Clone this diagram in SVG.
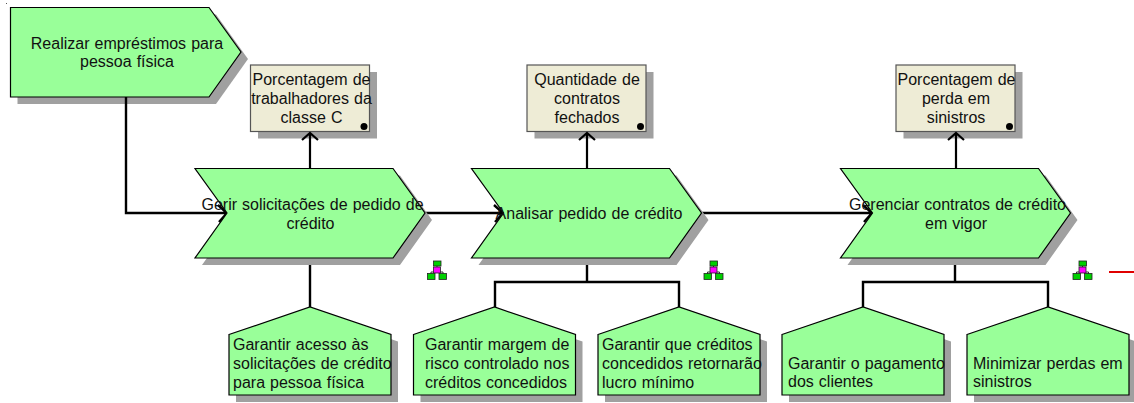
<svg xmlns="http://www.w3.org/2000/svg" width="1134" height="403" viewBox="0 0 1134 403">
<style>
text{font-family:"Liberation Sans",Arial,sans-serif;font-size:16px;word-spacing:.6px;fill:#111}
.m{text-anchor:middle}
.s{fill:#a0a0a0}
.g{fill:#99ff99;stroke:#000;stroke-width:1.2}
.k{fill:#eeecd6;stroke:#555;stroke-width:1.2}
.c{fill:none;stroke:#000;stroke-width:2.4}
.a{fill:none;stroke:#000;stroke-width:2.2}
.t{fill:#00d000;stroke:#222;stroke-width:.8}
.p{fill:#ff00ff;stroke:#222;stroke-width:.8}
.l{fill:none;stroke:#333;stroke-width:1}
</style>
<defs>
<path id="chev" d="M0 0H198L230 44.5L198 89.5H0L32 44.5Z"/>
<path id="goal" d="M0 27.500L81 0L162 27.500V88H0Z"/>
<g id="ico">
<path class="l" d="M0-4V3M-6 4V2H6V4"/>
<rect class="t" x="-3.500" y="-9" width="7.500" height="5"/>
<rect class="p" x="-3.500" y="-3" width="7" height="6"/>
<rect class="t" x="-9.500" y="3.500" width="7.500" height="6"/>
<rect class="t" x="2" y="3.500" width="7.500" height="6"/>
</g>
</defs>
<rect x="6" y="3" width="1" height="1" fill="#555"/>
<g id="start"><path class="s" d="M17.500 14.500H216L248 59L216 104H17.500Z"/><path class="g" d="M10.500 7.500H209L241 52L209 97H10.500Z"/><text class="m" x="127" y="49">Realizar empréstimos para</text><text class="m" x="127" y="67">pessoa física</text></g>
<g id="kpi1"><rect class="s" x="258" y="72" width="119" height="66.500"/><rect class="k" x="250.500" y="65" width="119" height="66.500"/><circle cx="364" cy="126.500" r="3.500" fill="#000"/><text class="m" x="311.500" y="85">Porcentagem de</text><text class="m" x="311.500" y="104">trabalhadores da</text><text class="m" x="311.500" y="123">classe C</text></g>
<g id="kpi2"><rect class="s" x="534.500" y="72" width="119" height="66.500"/><rect class="k" x="527" y="65" width="119" height="66.500"/><circle cx="640.500" cy="126.500" r="3.500" fill="#000"/><text class="m" x="587" y="85">Quantidade de</text><text class="m" x="587" y="104">contratos</text><text class="m" x="587" y="123">fechados</text></g>
<g id="kpi3"><rect class="s" x="903.500" y="72" width="119" height="66.500"/><rect class="k" x="896" y="65" width="119" height="66.500"/><circle cx="1009.500" cy="126.500" r="3.500" fill="#000"/><text class="m" x="956.500" y="85">Porcentagem de</text><text class="m" x="956" y="104">perda em</text><text class="m" x="956" y="123">sinistros</text></g>
<g id="connectors">
<path class="c" d="M126 97V213H227M218 205L227 213L219 222"/>
<path class="c" d="M425 213H503M494 205L503 213L495 222"/>
<path class="c" d="M702 213H872M863 205L872 213L864 222"/>
<path class="a" d="M310 168V133M302 140L310 133L318 140"/>
<path class="a" d="M587 168V133M579 140L587 133L595 140"/>
<path class="a" d="M956 168V133M948 140L956 133L964 140"/>
<path class="c" d="M310 258V307"/>
<path class="c" d="M587 258V282M495 307V282H679V307"/>
<path class="c" d="M955 258V282M863 307V282H1048V307"/>
</g>
<g id="f1"><use href="#chev" x="202" y="175.500" class="s"/><use href="#chev" x="195" y="168.500" class="g"/><text class="m" x="312.500" y="210">Gerir solicitações de pedido de</text><text class="m" x="310.500" y="229">crédito</text></g>
<g id="f2"><use href="#chev" x="478.500" y="175.500" class="s"/><use href="#chev" x="471.500" y="168.500" class="g"/><text class="m" x="589" y="219">Analisar pedido de crédito</text></g>
<g id="f3"><use href="#chev" x="847.500" y="175.500" class="s"/><use href="#chev" x="840.500" y="168.500" class="g"/><text class="m" x="957.500" y="210">Gerenciar contratos de crédito</text><text class="m" x="956" y="229">em vigor</text></g>
<g id="g1"><use href="#goal" x="236" y="314" class="s"/><use href="#goal" x="229" y="307" class="g"/><text x="233" y="350">Garantir acesso às</text><text x="233" y="369">solicitações de crédito</text><text x="233" y="388">para pessoa física</text></g>
<g id="g2"><use href="#goal" x="420.500" y="314" class="s"/><use href="#goal" x="413.500" y="307" class="g"/><text x="425" y="350">Garantir margem de</text><text x="425" y="369">risco controlado nos</text><text x="425" y="388">créditos concedidos</text></g>
<g id="g3"><use href="#goal" x="605" y="314" class="s"/><use href="#goal" x="598" y="307" class="g"/><text x="602" y="350">Garantir que créditos</text><text x="602" y="369">concedidos retornarão</text><text x="602" y="388">lucro mínimo</text></g>
<g id="g4"><use href="#goal" x="789" y="314" class="s"/><use href="#goal" x="782" y="307" class="g"/><text x="788" y="368.500">Garantir o pagamento</text><text x="788" y="387">dos clientes</text></g>
<g id="g5"><use href="#goal" x="974" y="314" class="s"/><use href="#goal" x="967" y="307" class="g"/><text x="973" y="368.500">Minimizar perdas em</text><text x="973" y="387">sinistros</text></g>
<use id="i1" href="#ico" x="437" y="270"/>
<use id="i2" href="#ico" x="713.500" y="270"/>
<use id="i3" href="#ico" x="1082.500" y="270"/>
<line x1="1109" y1="272" x2="1134" y2="272" stroke="#e00000" stroke-width="2"/>
</svg>
